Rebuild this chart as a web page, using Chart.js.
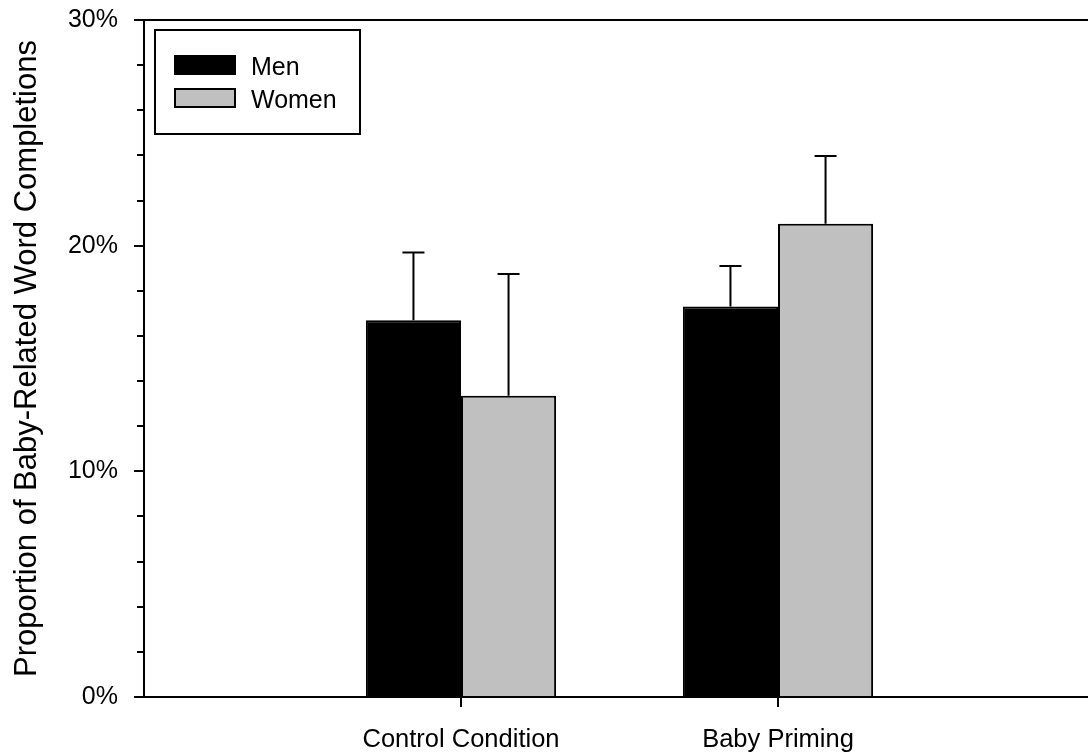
<!DOCTYPE html>
<html>
<head>
<meta charset="utf-8">
<script src="https://cdn.jsdelivr.net/npm/chart.js@4/dist/chart.umd.min.js"></script>
<style>
  html, body { margin: 0; padding: 0; background: #fff; overflow: hidden; }
  #wrap { width: 1096px; height: 754px; }
</style>
</head>
<body>
<div id="wrap"><canvas id="myChart" width="1096" height="754"></canvas></div>
<script>
// categories (blank slots keep the groups at 1/3 and 2/3 of the axis)
const conditions = ['', 'Control Condition', 'Baby Priming', ''];
const seriesNames = ['Men', 'Women'];

// percent of baby-related word completions
const menValues = [null, 16.7, 17.3, null];
const womenValues = [null, 13.35, 20.97, null];

// error bar sizes (upper arm only)
const menErrors = [null, 3.0, 1.8, null];
const womenErrors = [null, 5.4, 3.0, null];

const yTicks = [0, 10, 20, 30];

const FONT = '"Liberation Sans", Arial, sans-serif';

// error bars drawn from the y scale
const errorBars = {
    id: 'errorBars',
    afterDatasetsDraw(chart) {
        const ctx = chart.ctx;
        const yScale = chart.scales.y;
        const errs = [menErrors, womenErrors];
        ctx.save();
        ctx.strokeStyle = '#000';
        ctx.lineWidth = 2;
        chart.data.datasets.forEach((ds, di) => {
            const meta = chart.getDatasetMeta(di);
            meta.data.forEach((bar, i) => {
                const v = ds.data[i];
                const e = errs[di][i];
                if (v == null || e == null) return;
                const yTop = yScale.getPixelForValue(v + e);
                ctx.beginPath();
                ctx.moveTo(bar.x, bar.y);
                ctx.lineTo(bar.x, yTop);
                ctx.moveTo(bar.x - 11, yTop);
                ctx.lineTo(bar.x + 11, yTop);
                ctx.stroke();
            });
        });
        ctx.restore();
    }
};

// boxed legend in the top-left corner of the plot
const boxLegend = {
    id: 'boxLegend',
    afterDraw(chart) {
        const ctx = chart.ctx;
        const area = chart.chartArea;
        const x0 = area.left + 11, y0 = area.top + 10;
        ctx.save();
        ctx.lineWidth = 2;
        ctx.strokeStyle = '#000';
        ctx.strokeRect(x0, y0, 205, 104);
        ctx.font = '25px ' + FONT;
        ctx.textBaseline = 'middle';
        chart.data.datasets.forEach((ds, i) => {
            const sy = y0 + 25 + i * 33;
            ctx.fillStyle = ds.backgroundColor;
            ctx.fillRect(x0 + 19, sy, 62, 20);
            ctx.strokeRect(x0 + 20, sy + 1, 60, 18);
            ctx.fillStyle = '#000';
            ctx.fillText(ds.label, x0 + 96, sy + 13);
        });
        ctx.restore();
    }
};

new Chart(document.getElementById('myChart'), {
    type: 'bar',
    data: {
        labels: conditions,
        datasets: [{
            label: seriesNames[0],
            data: menValues,
            backgroundColor: '#000000',
            borderColor: '#000000',
            borderWidth: 2,
            borderSkipped: 'start',
            yAxisID: 'y'
        }, {
            label: seriesNames[1],
            data: womenValues,
            backgroundColor: '#c0c0c0',
            borderColor: '#000000',
            borderWidth: 2,
            borderSkipped: 'start',
            yAxisID: 'y'
        }]
    },
    options: {
        responsive: false,
        animation: false,
        categoryPercentage: 0.6,
        barPercentage: 1.0,
        layout: { padding: { top: 20, right: 1, left: 0, bottom: 0 } },
        plugins: {
            legend: { display: false },
            tooltip: { enabled: false }
        },
        scales: {
            x: {
                offset: false,
                grid: {
                    offset: false,
                    drawOnChartArea: false,
                    tickLength: 10,
                    lineWidth: 2,
                    tickColor: (c) => (c.index === 1 || c.index === 2) ? '#000' : 'rgba(0,0,0,0)'
                },
                border: { display: true, color: '#000', width: 2 },
                ticks: {
                    color: '#000',
                    font: { family: FONT, size: 25.5 },
                    padding: 18,
                    maxRotation: 0,
                    autoSkip: false
                },
                afterFit: (s) => { s.height = 57; s.paddingLeft = 0; s.paddingRight = 0; }
            },
            y: {
                position: 'left',
                weight: 1,
                min: 0,
                max: 30,
                afterBuildTicks: (s) => { s.ticks = yTicks.map(v => ({ value: v })); },
                grid: {
                    drawOnChartArea: true,
                    tickLength: 10,
                    lineWidth: 2,
                    color: (c) => (c.tick && c.tick.value === 30) ? '#000' : 'rgba(0,0,0,0)',
                    tickColor: '#000'
                },
                border: { display: true, color: '#000', width: 2 },
                ticks: {
                    color: '#000',
                    font: { family: FONT, size: 25 },
                    padding: 16,
                    callback: (v) => v + '%'
                },
                title: {
                    display: true,
                    text: 'Proportion of Baby-Related Word Completions',
                    color: '#000',
                    font: { family: FONT, size: 31 },
                    padding: { top: 9, bottom: 0 }
                },
                afterFit: (s) => { s.width = 144; s.paddingTop = 0; s.paddingBottom = 0; }
            },
            yMinor: {
                position: 'left',
                weight: 0,
                min: 0,
                max: 30,
                ticks: { stepSize: 2, display: false },
                grid: {
                    drawOnChartArea: false,
                    tickLength: 7,
                    lineWidth: 2,
                    color: '#000'
                },
                border: { display: false },
                afterFit: (s) => { s.width = 0; s.paddingTop = 0; s.paddingBottom = 0; }
            }
        }
    },
    plugins: [errorBars, boxLegend]
});
</script>
</body>
</html>
